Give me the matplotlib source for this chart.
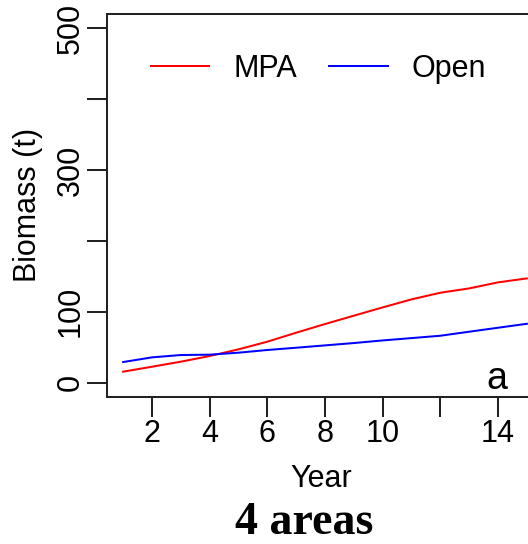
import matplotlib
matplotlib.use("Agg")
import matplotlib.pyplot as plt

# data
years = list(range(1, 16))
mpa = [15.3, 22.3, 29.4, 37.4, 46.8, 57.6, 70.3, 82.5, 94.3, 106.0,
       117.3, 126.7, 132.8, 141.3, 146.9]
open_area = [28.9, 35.5, 38.8, 39.3, 42.1, 45.9, 49.1, 52.4, 55.7, 59.4,
             62.7, 66.0, 71.7, 77.3, 82.9]

x_ticks = [2, 4, 6, 8, 10, 12, 14]
x_labels = ["2", "4", "6", "8", "10", "", "14"]
y_ticks = [0, 100, 200, 300, 400, 500]
y_labels = ["0", "100", "", "300", "", "500"]

plt.rcParams["font.family"] = ["Liberation Sans", "DejaVu Sans"]

W, H = 528, 544
fig = plt.figure(figsize=(W / 100, H / 100), dpi=100)
left, right, top, bottom = 107, 543, 14, 396.7
ax = fig.add_axes([left / W, 1 - bottom / H, (right - left) / W, (bottom - top) / H])

lw = 1.45
ax.plot(years, mpa, color="#ff0000", lw=lw, label="MPA")
ax.plot(years, open_area, color="#0000ff", lw=lw, label="Open")

ax.set_xlim(0.44, 15.56)
ax.set_ylim(-20, 520)

ax.set_xticks(x_ticks)
ax.set_xticklabels(x_labels)
ax.set_yticks(y_ticks)
ax.set_yticklabels(y_labels, rotation=90, va="center")

ax.tick_params(axis="both", direction="out", length=14.4, width=lw,
               labelsize=22, color="#222222")
ax.tick_params(axis="x", pad=2)
ax.tick_params(axis="y", pad=1)
for s in ax.spines.values():
    s.set_linewidth(lw)
    s.set_color("#222222")

ax.set_ylabel("Biomass (t)", fontsize=22)
ax.yaxis.set_label_coords((43 - left) / (right - left), 0.5)
fig.text(321.7 / W, 1 - 486.7 / H, "Year", fontsize=22, ha="center", va="baseline")

# panel letter
fig.text(496.7 / W, 1 - 389.3 / H, "a", fontsize=27, ha="center", va="baseline")

ax.legend(loc="center left",
          bbox_to_anchor=((150.7 - left) / (right - left), (bottom - 69) / (bottom - top)),
          ncol=2, frameon=False, fontsize=22, handlelength=1.92, handletextpad=0.78,
          columnspacing=1.05, borderpad=0, borderaxespad=0)

fig.text(304 / W, 1 - 534.5 / H, "4 areas", fontsize=33, fontweight="bold",
         family=["Liberation Serif", "DejaVu Serif"], ha="center", va="baseline")

fig.savefig("out.png", dpi=100)
